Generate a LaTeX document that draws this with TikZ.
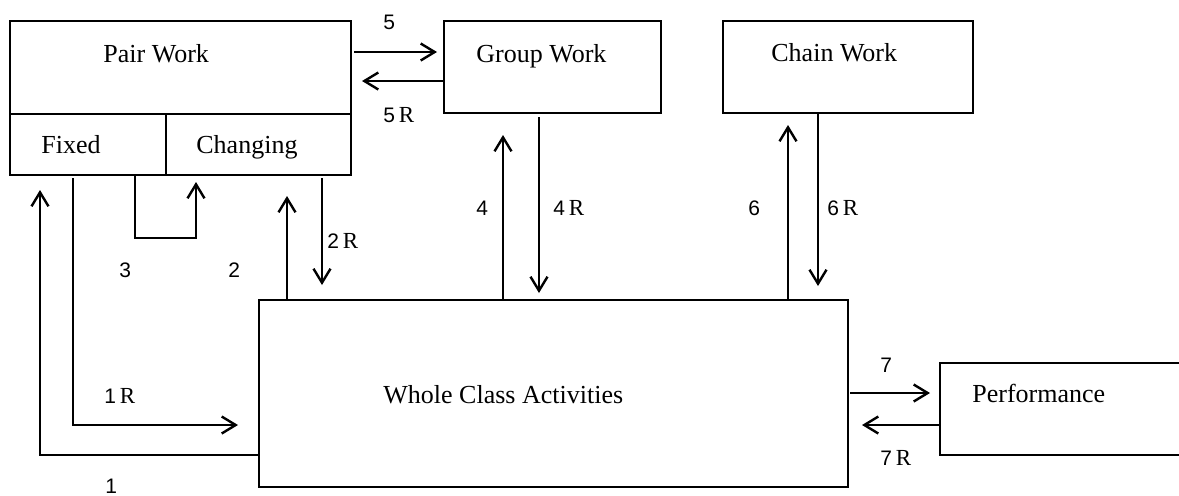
\documentclass[tikz,border=0pt]{standalone}
\usepackage{fontspec}
\setmainfont{Liberation Serif}
\newfontfamily\numfont{Liberation Sans}
\usetikzlibrary{arrows.meta}
\def\num#1{{\fontsize{10.5}{12}\selectfont\numfont #1}}
\tikzset{
  box/.style={draw,line width=1.2pt,inner sep=0pt,outer sep=0pt},
  txt/.style={anchor=base west,inner sep=0pt,font=\fontsize{13}{15}\selectfont},
  lbl/.style={anchor=base west,inner sep=0pt,font=\fontsize{11.5}{13}\selectfont},
  arr/.style={-{Straight Barb[length=7pt,width=8.5pt]},line width=1.2pt},
}

\begin{document}
\begin{tikzpicture}[x=0.5pt,y=-0.5pt]
  \useasboundingbox (0,0) rectangle (1179,495);
  \node[box,anchor=north west,minimum width=170.5pt,minimum height=46.5pt] (pairtop) at (10,21) {};
  \node[box,anchor=north west,minimum width=78pt,minimum height=30.5pt] (fixed) at (pairtop.south west) {};
  \node[box,anchor=north west,minimum width=92.5pt,minimum height=30.5pt] (changing) at (fixed.north east) {};
  \node[box,anchor=north west,minimum width=108.5pt,minimum height=46pt] (group) at (444,21) {};
  \node[box,anchor=north west,minimum width=125pt,minimum height=46pt] (chain) at (723,21) {};
  \node[box,anchor=north west,minimum width=294.5pt,minimum height=93.5pt] (whole) at (259,300) {};
  \node[inner sep=0pt,outer sep=0pt,anchor=north west,minimum width=119.5pt,minimum height=46pt] (perf) at (940,363) {};
  \draw[line width=1.2pt] (perf.north east) -- (perf.north west) -- (perf.south west) -- (perf.south east);

  \node[txt] (tpair) at (103,62) {Pair Work};
  \node[txt] (tfixed) at (41,153) {Fixed};
  \node[txt] (tchanging) at (196,153) {Changing};
  \node[txt] (tgroup) at (476,62) {Group Work};
  \node[txt] (tchain) at (771,61) {Chain Work};
  \node[txt] (twhole) at (383,403) {Whole Class Activities};
  \node[txt] (tperf) at (972,402) {Performance};

  \coordinate (c1) at (40,0);
  \coordinate (c1R) at (73,0);
  \coordinate (c3a) at (135,0);
  \coordinate (c3b) at (196,0);
  \coordinate (c2) at (287,0);
  \coordinate (c2R) at (322,0);
  \coordinate (c4) at (503,0);
  \coordinate (c4R) at (539,0);
  \coordinate (c6) at (788,0);
  \coordinate (c6R) at (818,0);
  \coordinate (r5) at (0,52);
  \coordinate (r5R) at (0,81);
  \coordinate (r3) at (0,238);
  \coordinate (r7) at (0,393);
  \coordinate (r1R) at (0,425);
  \coordinate (r7R) at (0,425);
  \coordinate (r1) at (0,455);

  \draw[arr,shorten >=7.5pt] (whole.west |- r1) -- (c1 |- r1) -- (fixed.south -| c1);
  \draw[arr,shorten <=1.5pt,shorten >=10.5pt] (fixed.south -| c1R) -- (c1R |- r1R) -- (whole.west |- r1R);
  \draw[arr,shorten >=3.5pt] (fixed.south -| c3a) -- (c3a |- r3) -- (c3b |- r3) -- (changing.south -| c3b);
  \draw[arr,shorten >=10.5pt] (whole.north -| c2) -- (changing.south -| c2);
  \draw[arr,shorten <=1.5pt,shorten >=7.5pt] (changing.south -| c2R) -- (whole.north -| c2R);
  \draw[arr,shorten >=11pt] (whole.north -| c4) -- (group.south -| c4);
  \draw[arr,shorten <=2pt,shorten >=3.5pt] (group.south -| c4R) -- (whole.north -| c4R);
  \draw[arr,shorten >=6pt] (whole.north -| c6) -- (chain.south -| c6);
  \draw[arr,shorten >=7pt] (chain.south -| c6R) -- (whole.north -| c6R);
  \draw[arr,shorten <=1.5pt,shorten >=3.5pt] (pairtop.east |- r5) -- (group.west |- r5);
  \draw[arr,shorten >=5.5pt] (group.west |- r5R) -- (pairtop.east |- r5R);
  \draw[arr,shorten <=1pt,shorten >=5pt] (whole.east |- r7) -- (perf.west |- r7);
  \draw[arr,shorten >=7pt] (perf.west |- r7R) -- (whole.east |- r7R);

  \node[lbl] (l5) at (383,29) {\num{5}};
  \node[lbl] (l5R) at (383,122) {\num{5}\,R};
  \node[lbl] (l2R) at (327,248) {\num{2}\,R};
  \node[lbl] (l3) at (119,277) {\num{3}};
  \node[lbl] (l2) at (228,277) {\num{2}};
  \node[lbl] (l1R) at (104,403) {\num{1}\,R};
  \node[lbl] (l1) at (105,493) {\num{1}};
  \node[lbl] (l4) at (476,215) {\num{4}};
  \node[lbl] (l4R) at (553,215) {\num{4}\,R};
  \node[lbl] (l6) at (748,215) {\num{6}};
  \node[lbl] (l6R) at (827,215) {\num{6}\,R};
  \node[lbl] (l7) at (880,372) {\num{7}};
  \node[lbl] (l7R) at (880,465) {\num{7}\,R};
\end{tikzpicture}
\end{document}
